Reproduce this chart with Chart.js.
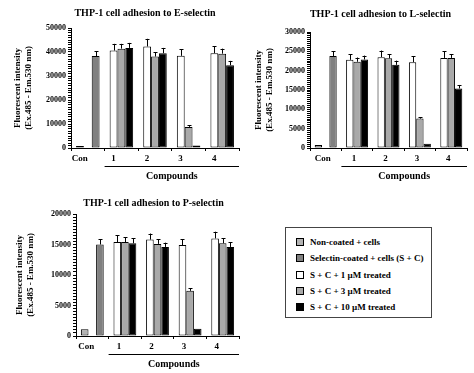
<!DOCTYPE html>
<html>
<head>
<meta charset="utf-8">
<script src="https://cdn.jsdelivr.net/npm/chart.js@4"></script>
<style>
  html, body { margin: 0; padding: 0; background: #fff; }
  body { width: 474px; height: 373px; position: relative; overflow: hidden; font-family: "Liberation Serif", "Times New Roman", serif; }
  canvas { position: absolute; }
  #legend { position: absolute; left: 285px; top: 227px; width: 145px; height: 89px; border: 1px solid #444; box-sizing: content-box; }
  .item { position: absolute; left: 10px; height: 12px; font: bold 9px "Liberation Serif", serif; color: #000; white-space: nowrap; line-height: 12px; }
  .sw { display: inline-block; width: 6px; height: 6px; border: 1px solid #000; vertical-align: middle; margin-right: 6px; position: relative; top: -1px; }
</style>
</head>
<body>
<canvas id="cE" width="242" height="190" style="left:0;top:0"></canvas>
<canvas id="cL" width="234" height="190" style="left:240px;top:0"></canvas>
<canvas id="cP" width="242" height="183" style="left:0;top:190px"></canvas>
<div id="legend"></div>
<script>
// ---------- data ----------
const categories = ['Con', '1', '2', '3', '4'];
const seriesNames = ['Non-coated + cells', 'Selectin-coated + cells (S + C)', 'S + C + 1 \u00b5M treated', 'S + C + 3 \u00b5M treated', 'S + C + 10 \u00b5M treated'];
const seriesColors = ['#b3b3b3', '#808080', '#ffffff', '#a9a9a9', '#000000'];

// E-selectin
const eNonCoated = [800, null, null, null, null];
const eSC         = [38300, null, null, null, null];
const e1uM        = [null, 40600, 42300, 38400, 39500];
const e3uM        = [null, 41400, 38100, 8800, 39300];
const e10uM       = [null, 41700, 39500, 1000, 34500];
const eNonCoatedErr = [0, null, null, null, null];
const eSCErr        = [2000, null, null, null, null];
const e1uMErr       = [null, 2800, 3200, 2700, 2800];
const e3uMErr       = [null, 2000, 1900, 600, 2100];
const e10uMErr      = [null, 2100, 2200, 0, 1800];

// L-selectin
const lNonCoated = [800, null, null, null, null];
const lSC         = [23800, null, null, null, null];
const l1uM        = [null, 22800, 23500, 22200, 23300];
const l3uM        = [null, 22300, 23200, 7600, 23300];
const l10uM       = [null, 22900, 21500, 1100, 15400];
const lNonCoatedErr = [0, null, null, null, null];
const lSCErr        = [1200, null, null, null, null];
const l1uMErr       = [null, 1500, 1700, 1500, 1700];
const l3uMErr       = [null, 1100, 1100, 400, 1000];
const l10uMErr      = [null, 1000, 1100, 0, 900];

// P-selectin
const pNonCoated = [1100, null, null, null, null];
const pSC         = [15000, null, null, null, null];
const p1uM        = [null, 15400, 15800, 14900, 16000];
const p3uM        = [null, 15400, 15100, 7400, 15200];
const p10uM       = [null, 15200, 14600, 1200, 14600];
const pNonCoatedErr = [0, null, null, null, null];
const pSCErr        = [900, null, null, null, null];
const p1uMErr       = [null, 1100, 1000, 1000, 1100];
const p3uMErr       = [null, 800, 800, 400, 800];
const p10uMErr      = [null, 800, 700, 0, 800];

const yTitle = ['Fluorescent intensity', '(Ex.485 - Em.530 nm)'];
const xGroupTitle = 'Compounds';
// ---------------------------

const FONT = '"Liberation Serif", "Times New Roman", serif';

const extras = {
  id: 'extras',
  afterLayout(chart, args, o) {
    const t = chart.titleBlock;
    if (t) {
      const ca = chart.chartArea;
      const c = (ca.left + ca.right) / 2 + (o.titleShift || 0);
      const w = t.right - t.left;
      t.left = c - w / 2; t.right = c + w / 2;
    }
  },
  afterDatasetsDraw(chart, args, o) {
    const ctx = chart.ctx;
    const ys = chart.scales.y, xs = chart.scales.x;
    ctx.save();
    ctx.strokeStyle = '#000';
    ctx.lineWidth = 1;
    chart.data.datasets.forEach((ds, i) => {
      const meta = chart.getDatasetMeta(i);
      meta.data.forEach((bar, j) => {
        const v = ds.data[j];
        const e = ds.errors ? ds.errors[j] : null;
        if (v == null || !e) return;
        const yTop = ys.getPixelForValue(v + e);
        const x = Math.round(bar.x) + 0.5;
        ctx.beginPath();
        ctx.moveTo(x, bar.y);
        ctx.lineTo(x, yTop);
        ctx.moveTo(x - 2, Math.round(yTop) + 0.5);
        ctx.lineTo(x + 2, Math.round(yTop) + 0.5);
        ctx.stroke();
      });
    });
    // group line + label under compounds
    const ca = chart.chartArea;
    const half = (xs.getPixelForValue(1) - xs.getPixelForValue(0)) / 2;
    const x0 = xs.getPixelForValue(1) - half + (o.lineShift || 0);
    const x1 = xs.getPixelForValue(4) + half + (o.lineShift || 0);
    const yl = Math.round(ca.bottom + 18) + 0.5;
    ctx.beginPath();
    ctx.moveTo(x0, yl); ctx.lineTo(x1, yl);
    ctx.stroke();
    ctx.fillStyle = '#000';
    ctx.font = 'bold 10px ' + FONT;
    ctx.textAlign = 'center';
    ctx.textBaseline = 'middle';
    ctx.fillText(xGroupTitle, (x0 + x1) / 2, ca.bottom + 28);
    ctx.restore();
  }
};

function makeDatasets(vals, errs) {
  // stacks: a = first slot, b = middle slot, c = last slot
  const stacks = ['a', 'c', 'a', 'b', 'c'];
  const order = [0, 2, 3, 1, 4];
  return order.map(k => ({
    label: seriesNames[k],
    data: vals[k],
    errors: errs[k],
    stack: stacks[k],
    backgroundColor: seriesColors[k],
    borderColor: '#000',
    borderWidth: 1,
    borderSkipped: false,
    categoryPercentage: 0.7,
    barPercentage: 1.0
  }));
}

function makeChart(id, title, vals, errs, geo) {
  return new Chart(document.getElementById(id), {
    type: 'bar',
    data: { labels: categories, datasets: makeDatasets(vals, errs) },
    options: {
      responsive: false,
      animation: false,
      devicePixelRatio: 1,
      layout: { padding: { left: 0, right: geo.padR, top: 0, bottom: 0 } },
      plugins: {
        legend: { display: false },
        tooltip: { enabled: false },
        title: {
          display: true, text: title, color: '#000', fullSize: false,
          font: { family: FONT, size: 10, weight: 'bold' },
          padding: { top: geo.titleTop, bottom: geo.titleBottom }
        },
        extras: { titleShift: geo.titleShift, lineShift: 0 }
      },
      scales: {
        x: {
          stacked: true,
          grid: { display: true, drawOnChartArea: false, offset: true, tickLength: 3, color: '#000' },
          border: { display: true, color: '#000', width: 1 },
          ticks: { color: '#000', font: { family: FONT, size: 9, weight: 'bold' }, padding: 2, labelOffset: geo.labelOffset, maxRotation: 0, autoSkip: false },
          afterFit(s) { s.height = geo.xH; }
        },
        y: {
          stacked: true,
          min: 0, max: geo.max,
          grid: { display: true, drawOnChartArea: false, tickLength: 3, color: '#000' },
          border: { display: true, color: '#000', width: 1 },
          ticks: {
            stepSize: geo.major / 10, autoSkip: false, color: '#000', padding: 2,
            font: { family: FONT, size: 8, weight: 'bold' },
            callback: v => (v % geo.major === 0 ? String(v) : '')
          },
          title: {
            display: true, text: yTitle, color: '#000',
            font: { family: FONT, size: 9, weight: 'bold' },
            padding: { top: geo.yTitlePad, bottom: 0 }
          },
          afterFit(s) { s.width = geo.yW; }
        }
      }
    },
    plugins: [extras]
  });
}

makeChart('cE', 'THP-1 cell adhesion to E-selectin',
  [eNonCoated, eSC, e1uM, e3uM, e10uM],
  [eNonCoatedErr, eSCErr, e1uMErr, e3uMErr, e10uMErr],
  { padR: 3, titleTop: 7, titleBottom: 9, titleShift: -10, xH: 42, yW: 71, yTitlePad: 12, max: 50000, major: 10000, labelOffset: -8 });

makeChart('cL', 'THP-1 cell adhesion to L-selectin',
  [lNonCoated, lSC, l1uM, l3uM, l10uM],
  [lNonCoatedErr, lSCErr, l1uMErr, l3uMErr, l10uMErr],
  { padR: 7, titleTop: 8, titleBottom: 12, titleShift: -8, xH: 42, yW: 70, yTitlePad: 13, max: 30000, major: 5000, labelOffset: -3 });

makeChart('cP', 'THP-1 cell adhesion to P-selectin',
  [pNonCoated, pSC, p1uM, p3uM, p10uM],
  [pNonCoatedErr, pSCErr, p1uMErr, p3uMErr, p10uMErr],
  { padR: 3, titleTop: 7, titleBottom: 5, titleShift: -4, xH: 37, yW: 76, yTitlePad: 14, max: 20000, major: 5000, labelOffset: -6 });

// legend built from the series arrays
const lg = document.getElementById('legend');
seriesNames.forEach((name, k) => {
  const d = document.createElement('div');
  d.className = 'item';
  d.style.top = (8 + k * 16.3) + 'px';
  const sw = document.createElement('span');
  sw.className = 'sw';
  sw.style.background = seriesColors[k];
  d.appendChild(sw);
  d.appendChild(document.createTextNode(name));
  lg.appendChild(d);
});
</script>
</body>
</html>
